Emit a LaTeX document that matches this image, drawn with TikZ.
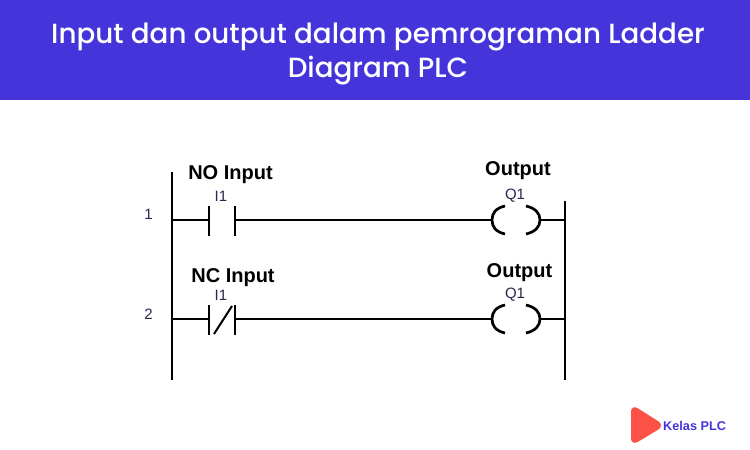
\documentclass[tikz,border=0pt]{standalone}
\usepackage{fontspec}
\setmainfont{Liberation Sans}
\newfontfamily\titlefont{Poppins Medium}
\definecolor{banner}{HTML}{4634DB}
\definecolor{playred}{HTML}{FB5146}
\definecolor{numink}{HTML}{2F2350}
\tikzset{
  wire/.style={line width=2.4pt,draw=black},
  plate/.style={line width=2.7pt,draw=black},
  head/.style={font=\fontsize{20}{22}\selectfont\bfseries,text=black,inner sep=0pt},
  tag/.style={font=\fontsize{15}{17}\selectfont,text=numink,inner sep=0pt},
}
\begin{document}
\begin{tikzpicture}[x=1pt,y=-1pt]
\useasboundingbox (0,0) rectangle (750,450);
\fill[white] (0,0) rectangle (750,450);
\fill[banner] (0,0) rectangle (750,100);
\node[align=center,text=white,inner sep=0pt,font=\titlefont\fontsize{27.75}{34}\selectfont] (title) at (378,54) {Input dan output dalam pemrograman Ladder\\Diagram PLC};
% rails
\coordinate (l0) at (172,172); \coordinate (l1) at (172,220); \coordinate (l2) at (172,319); \coordinate (l3) at (172,380);
\coordinate (r0) at (565,201); \coordinate (r1) at (565,220); \coordinate (r2) at (565,319); \coordinate (r3) at (565,380);
\draw[plate] (l0) -- (l3);
\draw[plate] (r0) -- (r3);
% rung 1
\coordinate (c1a) at (209,220); \coordinate (c1b) at (235,220);
\coordinate (q1a) at (492,220); \coordinate (q1b) at (540,220);
\draw[wire] (l1) -- (c1a);
\draw[wire] (c1b) -- (q1a);
\draw[wire] (q1b) -- (r1);
\draw[plate] (209,206) -- (209,236);
\draw[plate] (235,206) -- (235,236);
% rung 2
\coordinate (c2a) at (209,319); \coordinate (c2b) at (235,319);
\coordinate (q2a) at (492,319); \coordinate (q2b) at (540,319);
\draw[wire] (l2) -- (c2a);
\draw[wire] (c2b) -- (q2a);
\draw[wire] (q2b) -- (r2);
\draw[plate] (209,305) -- (209,335);
\draw[plate] (235,305) -- (235,335);
\draw[line width=2pt] (214,334) -- (232,306);
% coils
\foreach \y in {220,319}{
  \draw[plate] (505,\y-14) .. controls (496,\y-12) and (492,\y-7) .. (492,\y) .. controls (492,\y+7) and (496,\y+12) .. (505,\y+14);
  \draw[plate] (526,\y-14) .. controls (535,\y-12) and (540,\y-7) .. (540,\y) .. controls (540,\y+7) and (535,\y+12) .. (526,\y+14);
}
% labels
\node[head] (noin) at (230.5,174.5) {NO Input};
\node[head] (ncin) at (233,277.5) {NC Input};
\node[head] (out1) at (518,170.5) {Output};
\node[head] (out2) at (519.5,272.5) {Output};
\node[tag] (i1a) at (221,196) {I1};
\node[tag] (i1b) at (221,295) {I1};
\node[tag] (q1) at (515,196) {Q1};
\node[tag] (q2) at (515,295) {Q1};
\node[tag] (n1) at (148.5,214) {1};
\node[tag] (n2) at (148.5,314) {2};
% logo
\fill[playred,rounded corners=8pt] (631,404) -- (665,425.5) -- (631,446) -- cycle;
\node[anchor=west,inner sep=0pt,text=banner,font=\fontsize{12.7}{14}\selectfont\bfseries] (logo) at (663,425.5) {Kelas PLC};
\end{tikzpicture}
\end{document}
